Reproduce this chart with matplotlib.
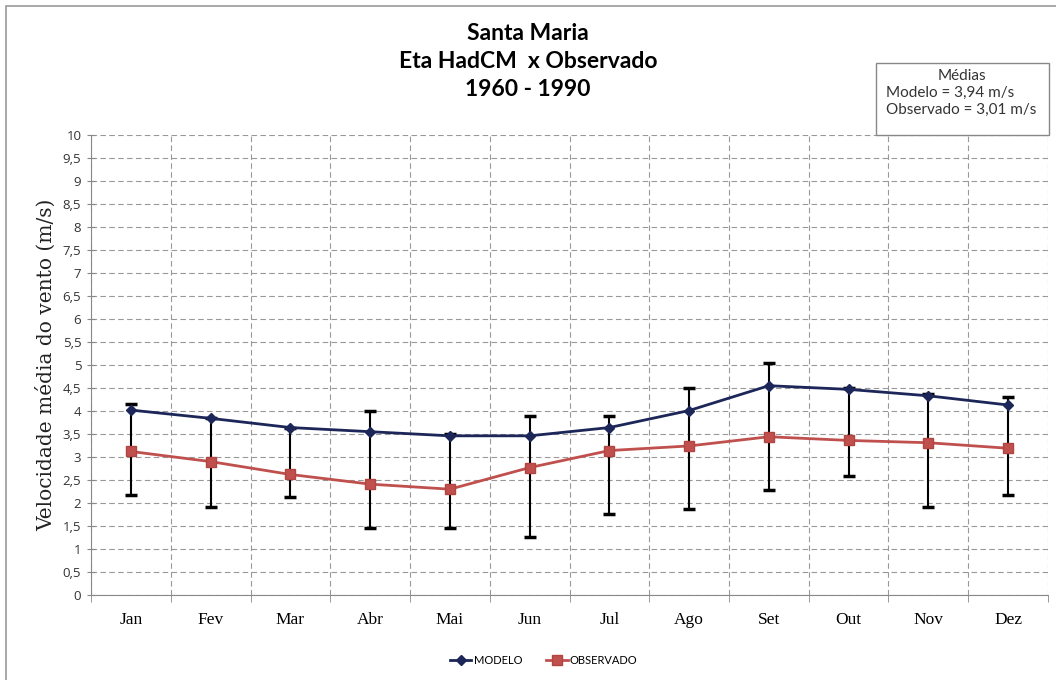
import matplotlib.pyplot as plt
import numpy as np

meses = ["Jan", "Fev", "Mar", "Abr", "Mai", "Jun", "Jul", "Ago", "Set", "Out", "Nov", "Dez"]
modelo = [4.02, 3.84, 3.64, 3.55, 3.46, 3.46, 3.64, 4.01, 4.55, 4.47, 4.33, 4.13]
observado = [3.12, 2.90, 2.62, 2.41, 2.30, 2.77, 3.14, 3.24, 3.44, 3.36, 3.31, 3.19]
# limites das barras de erro
sup = [4.15, 3.84, 3.64, 3.99, 3.50, 3.89, 3.89, 4.51, 5.04, 4.50, 4.36, 4.30]
inf = [2.17, 1.92, 2.14, 1.46, 1.46, 1.25, 1.76, 1.88, 2.28, 2.59, 1.92, 2.17]

x = np.arange(len(meses))

fig = plt.figure(figsize=(10.56, 6.8), dpi=100)
ax = fig.add_axes([0.0862, 0.125, 0.9062, 0.6765])

# barras de erro (pretas)
obs = np.array(observado)
ax.errorbar(x, obs, yerr=[obs - np.array(inf), np.array(sup) - obs], fmt="none",
            ecolor="black", elinewidth=1.5, capsize=4.5, capthick=2.5, zorder=2)

ax.plot(x, modelo, color="#1c2658", marker="D", markersize=5, lw=2, label="MODELO", zorder=3)
ax.plot(x, observado, color="#c0504d", marker="s", markersize=7, lw=2,
        markeredgecolor="#b04542", label="OBSERVADO", zorder=3)

ax.set_xlim(-0.5, 11.5)
ax.set_ylim(0, 10)
ax.set_yticks(np.arange(0, 10.01, 0.5))
ax.set_yticklabels([("%g" % v).replace(".", ",") for v in np.arange(0, 10.01, 0.5)],
                   fontsize=9.5, family="Open Sans", color="#333333")
ax.set_xticks(x)
ax.set_xticklabels(meses, fontsize=12.5, family="Liberation Serif")
ax.set_xticks(np.arange(-0.5, 11.6, 1), minor=True)
ax.tick_params(axis="x", which="major", length=0, pad=12)
ax.tick_params(axis="x", which="minor", length=5, direction="out", color="#888888")
ax.tick_params(axis="y", length=6, direction="inout", color="#888888", pad=4)

ax.grid(True, axis="y", which="major", ls=(0, (5, 3)), color="#999999", lw=0.8)
ax.grid(True, axis="x", which="minor", ls=(0, (5, 3)), color="#999999", lw=0.8)
ax.set_axisbelow(True)
for s in ["top", "right"]:
    ax.spines[s].set_visible(False)
for s in ["left", "bottom"]:
    ax.spines[s].set_color("#888888")

ax.set_ylabel("Velocidade média do vento (m/s)", fontsize=14.5, family="DejaVu Serif", labelpad=5, color="#222222")

fig.text(0.5, 1 - 33 / 680, "Santa Maria", ha="center", va="center", fontsize=16.5, fontweight="bold", family="Lato")
fig.text(0.5, 1 - 61 / 680, "Eta HadCM  x Observado", ha="center", va="center", fontsize=16.5, fontweight="bold", family="Lato")
fig.text(0.5, 1 - 89 / 680, "1960 - 1990", ha="center", va="center", fontsize=16.5, fontweight="bold", family="Lato")

# caixa das medias
caixa = plt.Rectangle((876 / 1056, 1 - 135 / 680), (1049 - 876) / 1056, (135 - 63) / 680,
                      transform=fig.transFigure, facecolor="white", edgecolor="#888888", lw=1, zorder=5)
fig.patches.append(caixa)
fig.text(962 / 1056, 1 - 76 / 680, "Médias", ha="center", va="center", fontsize=11, family="Lato", color="#333333", zorder=6)
fig.text(886 / 1056, 1 - 93 / 680, "Modelo = 3,94 m/s", ha="left", va="center", fontsize=11, family="Lato", color="#333333", zorder=6)
fig.text(886 / 1056, 1 - 110 / 680, "Observado = 3,01 m/s", ha="left", va="center", fontsize=11, family="Lato", color="#333333", zorder=6)

# moldura externa
fig.patches.append(plt.Rectangle((6 / 1056, -0.01), 1.02, 1 - 6 / 680 + 0.01, transform=fig.transFigure,
                                 fill=False, edgecolor="#999999", lw=1.2))

fig.legend(loc="center", bbox_to_anchor=(0.515, 1 - 660 / 680), ncol=2, frameon=False,
           prop={"family": "Lato", "size": 8}, handlelength=1.9, columnspacing=2.2, handletextpad=0.2)

plt.savefig("out.png", dpi=100)
